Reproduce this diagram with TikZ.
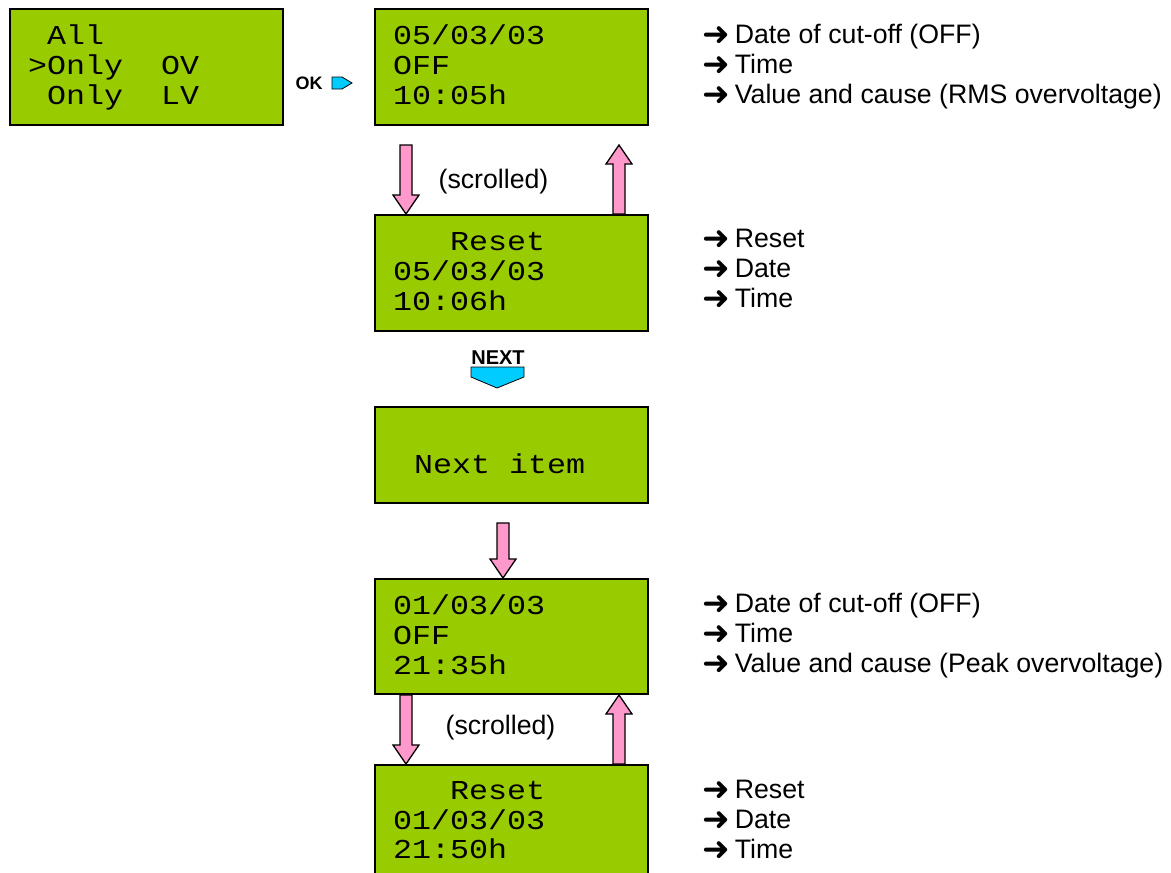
\documentclass[tikz,border=0pt]{standalone}
\usepackage{fontspec}
\setmainfont{Liberation Sans}
\newfontfamily\lcdfont[FakeStretch=1.16]{Liberation Mono}
\newfontfamily\symfont{DejaVu Sans}
\usetikzlibrary{calc}

\definecolor{lcdgreen}{HTML}{99CC00}
\definecolor{arrowpink}{HTML}{FF99CC}
\definecolor{keyblue}{HTML}{00CCFF}

\tikzset{
  lcd/.style={draw=black, line width=2, fill=lcdgreen, anchor=north west, minimum width=273, minimum height=116, inner sep=0},
  lcdtxt/.style={font=\lcdfont\fontsize{27.3}{30}\selectfont, anchor=base west, inner sep=0},
  note/.style={font=\fontsize{26.7}{30}\selectfont, anchor=base west, inner sep=0},
  fatarrow/.style={draw=black, line width=1.3, fill=arrowpink, line join=miter},
  keyarrow/.style={draw=black, line width=0.8, fill=keyblue},
  keylabel/.style={font=\bfseries\fontsize{18}{20}\selectfont, inner sep=0},
}

\newcommand{\notearrow}{\raisebox{-2pt}{\symfont\bfseries\fontsize{33}{30}\selectfont ➜}\hspace{5pt}}
\newcommand{\fatarrow}[2]{%
  \draw[fatarrow] let \p1=(#1), \p2=(#2), \n1={sign(\y2-\y1)} in
    (\x1-6pt,\y1) -- (\x1-6pt,\y2-\n1*19pt) -- (\x1-13pt,\y2-\n1*19pt) -- (\x1,\y2)
    -- (\x1+13pt,\y2-\n1*19pt) -- (\x1+6pt,\y2-\n1*19pt) -- (\x1+6pt,\y1) -- cycle;}

\begin{document}
\begin{tikzpicture}[x=1pt, y=-1pt]
    \useasboundingbox (0,0) rectangle (1171,873);

    % Screens
    \node[lcd] (menu) at (9,8) {};
    \node[lcd] (off1) at (374,8) {};
    \node[lcd] (rst1) at (374,214) {};
    \node[lcd, minimum height=96] (next) at (374,406) {};
    \node[lcd, minimum height=115] (off2) at (374,578) {};
    \node[lcd] (rst2) at (374,764) {};

    % Screen lines
    \node[lcdtxt] (menu1) at ([shift={(19,36)}]menu.north west) {~All};
    \node[lcdtxt] (menu2) at ([shift={(19,66)}]menu.north west) {>Only~~OV};
    \node[lcdtxt] (menu3) at ([shift={(19,96)}]menu.north west) {~Only~~LV};

    \node[lcdtxt] (off11) at ([shift={(19,36)}]off1.north west) {05/03/03};
    \node[lcdtxt] (off12) at ([shift={(19,66)}]off1.north west) {OFF};
    \node[lcdtxt] (off13) at ([shift={(19,96)}]off1.north west) {10:05h};

    \node[lcdtxt] (rst11) at ([shift={(19,36)}]rst1.north west) {~~~Reset};
    \node[lcdtxt] (rst12) at ([shift={(19,66)}]rst1.north west) {05/03/03};
    \node[lcdtxt] (rst13) at ([shift={(19,96)}]rst1.north west) {10:06h};

    \node[lcdtxt] (next1) at ([shift={(21,67)}]next.north west) {~Next~item};

    \node[lcdtxt] (off21) at ([shift={(19,36)}]off2.north west) {01/03/03};
    \node[lcdtxt] (off22) at ([shift={(19,66)}]off2.north west) {OFF};
    \node[lcdtxt] (off23) at ([shift={(19,96)}]off2.north west) {21:35h};

    \node[lcdtxt] (rst21) at ([shift={(19,35)}]rst2.north west) {~~~Reset};
    \node[lcdtxt] (rst22) at ([shift={(19,65)}]rst2.north west) {01/03/03};
    \node[lcdtxt] (rst23) at ([shift={(19,94)}]rst2.north west) {21:50h};

    % Keys
    \node[keylabel] (okkey) at (309,83) {OK};
    \draw[keyarrow] (332,77) -- (342,77) -- (352,83) -- (342,89) -- (332,89) -- cycle;
    \node[keylabel, font=\bfseries\fontsize{20}{22}\selectfont] (nextkey) at ([shift={(-13.5,25.5)}]rst1.south) {NEXT};
    \draw[keyarrow] (471,367) -- (524,367) -- (524,377) -- (497,388) -- (471,377) -- cycle;

    % Scrolling arrows
    \coordinate (dn1) at ([shift={(32,19)}]off1.south west);
    \coordinate (up1) at ([shift={(-30,19)}]off1.south east);
    \fatarrow{dn1}{dn1 |- rst1.north}
    \fatarrow{up1 |- rst1.north}{up1}
    \node[note, anchor=center] (scr1) at ([shift={(-18,-32)}]rst1.north) {(scrolled)};

    \coordinate (dn2) at ([shift={(129,19)}]next.south west);
    \fatarrow{dn2}{dn2 |- off2.north}

    \coordinate (dn3) at ([shift={(32,0)}]off2.south west);
    \coordinate (up3) at ([shift={(-30,0)}]off2.south east);
    \fatarrow{dn3}{dn3 |- rst2.north}
    \fatarrow{up3 |- rst2.north}{up3}
    \node[note, anchor=center] (scr2) at ([shift={(-11,-36)}]rst2.north) {(scrolled)};

    % Descriptions
    \node[note] (d11) at ([shift={(53,35)}]off1.north east) {\notearrow Date of cut-off (OFF)};
    \node[note] (d12) at ([shift={(53,65)}]off1.north east) {\notearrow Time};
    \node[note] (d13) at ([shift={(53,95)}]off1.north east) {\notearrow Value and cause (RMS overvoltage)};

    \node[note] (d21) at ([shift={(53,33)}]rst1.north east) {\notearrow Reset};
    \node[note] (d22) at ([shift={(53,63)}]rst1.north east) {\notearrow Date};
    \node[note] (d23) at ([shift={(53,93)}]rst1.north east) {\notearrow Time};

    \node[note] (d31) at ([shift={(53,34)}]off2.north east) {\notearrow Date of cut-off (OFF)};
    \node[note] (d32) at ([shift={(53,64)}]off2.north east) {\notearrow Time};
    \node[note] (d33) at ([shift={(53,94)}]off2.north east) {\notearrow Value and cause (Peak overvoltage)};

    \node[note] (d41) at ([shift={(53,34)}]rst2.north east) {\notearrow Reset};
    \node[note] (d42) at ([shift={(53,64)}]rst2.north east) {\notearrow Date};
    \node[note] (d43) at ([shift={(53,94)}]rst2.north east) {\notearrow Time};
\end{tikzpicture}
\end{document}
